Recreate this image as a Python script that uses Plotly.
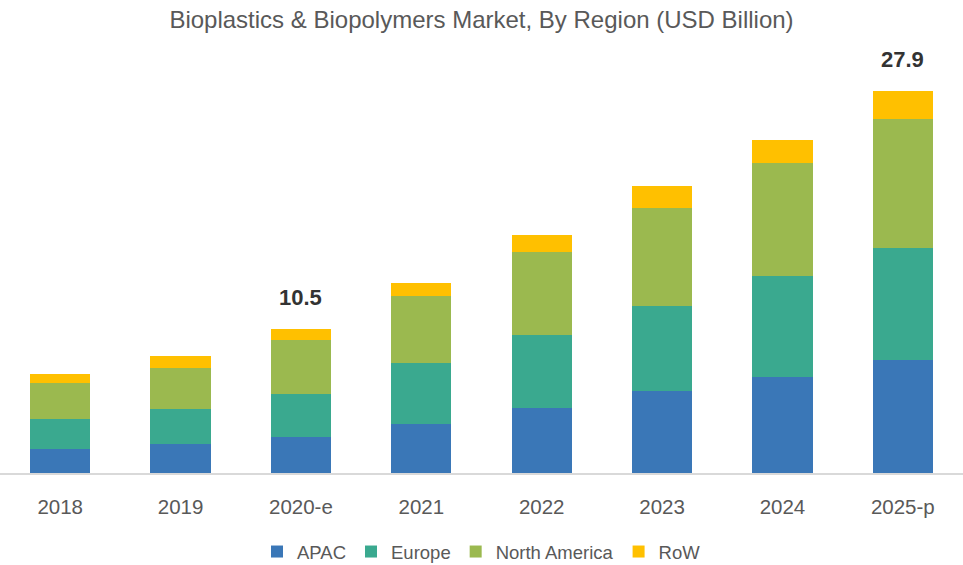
import plotly.graph_objects as go

years = ["2018", "2019", "2020-e", "2021", "2022", "2023", "2024", "2025-p"]
apac = [1.75, 2.12, 2.65, 3.58, 4.75, 5.99, 7.01, 8.25]
europe = [2.19, 2.56, 3.15, 4.46, 5.33, 6.21, 7.38, 8.18]
north_america = [2.63, 2.99, 3.90, 4.89, 6.06, 7.16, 8.25, 9.42]
row = [0.66, 0.88, 0.80, 0.95, 1.24, 1.61, 1.68, 2.05]
labelled = ["2020-e", "2025-p"]

series = [
    ("APAC", apac, "#3a77b7"),
    ("Europe", europe, "#3aa98f"),
    ("North America", north_america, "#9bb94f"),
    ("RoW", row, "#ffc000"),
]

FONT = "Liberation Sans, Arial, sans-serif"

fig = go.Figure()
for name, vals, col in series:
    fig.add_trace(go.Bar(x=years, y=vals, name=name, marker_color=col,
                         marker_line_width=0))

totals = [a + b + c + d for a, b, c, d in zip(apac, europe, north_america, row)]
for yr, tot in zip(years, totals):
    if yr in labelled:
        fig.add_annotation(x=yr, y=tot, text=f"<b>{tot:.1f}</b>", showarrow=False,
                           yanchor="bottom", yshift=17,
                           font=dict(size=22, color="#333333", family=FONT))

fig.update_layout(
    width=963, height=565,
    margin=dict(l=0, r=0, t=60, b=92, autoexpand=False),
    barmode="stack", bargap=0.5,
    plot_bgcolor="white", paper_bgcolor="white",
    font=dict(family=FONT, color="#595959"),
    title=dict(text="Bioplastics & Biopolymers Market, By Region (USD Billion)",
               x=0.5, xanchor="center", y=0.966, yanchor="middle",
               font=dict(size=24, color="#595959", family=FONT)),
    xaxis=dict(showline=True, linecolor="#d9d9d9", linewidth=1.5,
               tickfont=dict(size=20.5, color="#595959"), ticks="",
               ticklabelstandoff=15, showgrid=False, automargin=False),
    yaxis=dict(range=[0, 30.17], visible=False, showgrid=False),
    legend=dict(orientation="h", x=0.5, xanchor="center",
                yref="container", y=1 - 552 / 565,
                yanchor="middle", traceorder="normal",
                font=dict(size=18.5, color="#595959"), itemwidth=30),
)

fig.write_html("out.html", config={"displayModeBar": False},
               post_script="document.body.style.margin='0';")
